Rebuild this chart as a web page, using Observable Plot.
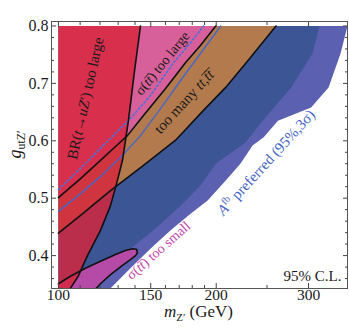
<!DOCTYPE html>
<html><head><meta charset="utf-8">
<script src="https://cdn.jsdelivr.net/npm/d3@7"></script>
<script src="https://cdn.jsdelivr.net/npm/@observablehq/plot@0.6"></script>
<style>body{margin:0;background:#fff}</style>
</head><body><div id="chart"></div>
<script>
// ---- data (m in GeV, g dimensionless) ----
const xMajor = [100, 150, 200, 300];
const xMinor = [110, 120, 130, 140, 160, 170, 180, 190, 250];
const yMajor = [0.4, 0.5, 0.6, 0.7, 0.8];
const yMinor = [0.36,0.38,0.42,0.44,0.46,0.48,0.52,0.54,0.56,0.58,0.62,0.64,0.66,0.68,0.72,0.74,0.76,0.78];

// BR(t->uZ') bound (steep line)
const brM = [143.4,139.7,136.0,132.5,129.6,125.7,120.3,113.6,109.2,105.4,103.5];
const brG = [0.8,0.722,0.635,0.566,0.531,0.487,0.444,0.400,0.365,0.343,0.322];
// sigma(tt) too large boundary (black)
const sigM = [100,110.2,120.3,128.5,135.4,145.3,160.1,174.7,186.6,199.6];
const sigG = [0.501,0.534,0.566,0.590,0.609,0.644,0.691,0.736,0.766,0.8];
// blue solid line
const bluM = [100,110.2,120.3,131.3,143.4,156.6,171,186.6,204];
const bluG = [0.477,0.508,0.538,0.571,0.609,0.656,0.705,0.752,0.8];
// blue dotted line
const dotM = [100,110.2,120.3,128.5,137.2,149.8,165.8,178.7,189.1];
const dotG = [0.515,0.552,0.587,0.613,0.639,0.679,0.736,0.771,0.8];
// too many tttt boundary
const fourM = [100,110.2,125.7,145.3,167.3,189.1,208.5,232.5,260];
const fourG = [0.439,0.470,0.513,0.557,0.601,0.653,0.693,0.745,0.8];
// sigma(tt) too small island
const smallM = [100,105.4,112.6,120.3,128.5,134.2,138.4,140.9,141.5,140.3,137.2,132.5,125.7,120.3,116.1,112.6];
const smallG = [0.351,0.364,0.378,0.390,0.402,0.409,0.412,0.411,0.405,0.400,0.393,0.383,0.367,0.351,0.336,0.322];
// A_fb preferred: 95% (dark) edge and 3 sigma (light) edge
const afb95M = [314.8,305.3,277.9,245.3,227.4,199.6,186.6,171,153.2,137.2,122.9,110.2,105];
const afb95G = [0.8,0.752,0.693,0.635,0.597,0.560,0.522,0.487,0.447,0.412,0.378,0.343,0.32];
const afb3sM = [356,345.3,327.6,303.4,262.3,246.4,234.6,222.4,208.5,192.6,178.7,163.7,149.8,137.2,125.7,120];
const afb3sG = [0.8,0.752,0.693,0.658,0.635,0.606,0.592,0.560,0.531,0.496,0.473,0.444,0.412,0.378,0.343,0.32];

const gTop = 0.8, gLow = 0.322, mLeft = 100;

// ---- build tables ----
const pts = (ms, gs) => ms.map((m, i) => ({m, g: gs[i]}));
const br = pts(brM, brG), sig = pts(sigM, sigG), blu = pts(bluM, bluG), dot = pts(dotM, dotG);
const four = pts(fourM, fourG), small = pts(smallM, smallG);
const afb95 = pts(afb95M, afb95G), afb3s = pts(afb3sM, afb3sG);

const lightPoly = [...afb3s, {m: mLeft, g: gLow}, {m: mLeft, g: gTop}];
const darkPoly = [...afb95, {m: mLeft, g: gLow}, {m: mLeft, g: gTop}];
const orangePoly = [...four, {m: mLeft, g: gTop}];
const pinkPoly = [...sig, {m: mLeft, g: gTop}];
const smallPoly = [...small, {m: mLeft, g: gLow}];
const redPoly = [{m: mLeft, g: gTop}, ...br, {m: mLeft, g: gLow}];

const serif = "'Liberation Serif', 'Times New Roman', serif";
const poly = (data, fill, extra = {}) => Plot.line(data, {x: "m", y: "g", fill, stroke: "none", clip: true, ...extra});
const edge = (data, stroke, extra = {}) => Plot.line(data, {x: "m", y: "g", stroke, strokeWidth: 1.6, clip: true, ...extra});
const blank = () => "";
const tickCol = "#444";

const plot = Plot.plot({
  width: 349, height: 331,
  marginLeft: 51, marginRight: 2, marginTop: 21, marginBottom: 43,
  style: {fontFamily: serif, background: "#fff", color: "#1a1a1a"},
  x: {type: "log", domain: [97, 356], label: null},
  y: {domain: [0.3427, 0.8078], label: null},
  marks: [
    poly(lightPoly, "#5c60b0"),
    poly(darkPoly, "#3b5595"),
    poly(orangePoly, "#b37a4e"),
    poly(pinkPoly, "#d8609a"),
    poly(smallPoly, "#b54aa7"),
    poly(redPoly, "#d7253a", {fillOpacity: 0.82}),
    edge(blu, "#4866c6", {strokeWidth: 1.4}),
    edge(dot, "#4f6fd8", {strokeWidth: 1.6, strokeDasharray: "1.8,2.4"}),
    edge(sig, "#111"),
    edge(four, "#111"),
    edge(br, "#111"),
    edge(small, "#111"),
    // annotations
    Plot.text(["BR(t→uZ′) too large"], {x: 112.6, y: 0.674, text: d => d, rotate: -77.5, fontSize: 15, fill: "#1a1a1a"}),
    Plot.text(["σ(tt\u0305) too large"], {x: 157.9, y: 0.735, text: d => d, rotate: -51, fontSize: 14, fill: "#1a1a1a"}),
    Plot.text(["too many tt,t\u0305t\u0305"], {x: 173.6, y: 0.668, text: d => d, rotate: -47.5, fontSize: 15, fill: "#1a1a1a"}),
    Plot.text(["Afb preferred (95%,3σ)"], {x: 249, y: 0.562, text: d => d, rotate: -47.5, fontSize: 15, fill: "#4563c2"}),
    Plot.text(["σ(tt\u0305) too small"], {x: 155.2, y: 0.409, text: d => d, rotate: -41.5, fontSize: 14, fill: "#c245a6"}),
    Plot.text(["95% C.L."], {x: 346.8, y: 0.3645, text: d => d, textAnchor: "end", fontSize: 15, fill: "#1a1a1a"}),
    // axis titles
    Plot.text(["mZ′ (GeV)"], {x: 185, frameAnchor: "bottom", dy: 28, text: d => d, fontSize: 17, fill: "#1a1a1a"}),
    Plot.text(["gutZ′"], {y: 0.569, frameAnchor: "left", dx: -36, rotate: -90, text: d => d, fontSize: 18, fill: "#1a1a1a"}),
    // axes
    Plot.axisX({anchor: "bottom", ticks: xMajor, tickSize: 0, tickPadding: 0, fontSize: 15.5, tickFormat: d => String(d), label: null}),
    Plot.axisX({anchor: "bottom", ticks: xMajor, tickSize: -5, tickFormat: blank, label: null, stroke: tickCol}),
    Plot.axisX({anchor: "bottom", ticks: xMinor, tickSize: -3, tickFormat: blank, label: null, stroke: tickCol}),
    Plot.axisX({anchor: "top", ticks: xMajor, tickSize: -5, tickFormat: blank, label: null, stroke: tickCol}),
    Plot.axisX({anchor: "top", ticks: xMinor, tickSize: -3, tickFormat: blank, label: null, stroke: tickCol}),
    Plot.axisY({anchor: "left", ticks: yMajor, tickSize: 0, tickPadding: 3, fontSize: 16, tickFormat: d => d.toFixed(1), label: null}),
    Plot.axisY({anchor: "left", ticks: yMajor, tickSize: -5, tickFormat: blank, label: null, stroke: tickCol}),
    Plot.axisY({anchor: "left", ticks: yMinor, tickSize: -3, tickFormat: blank, label: null, stroke: tickCol}),
    Plot.axisY({anchor: "right", ticks: yMajor, tickSize: -5, tickFormat: blank, label: null, stroke: tickCol}),
    Plot.axisY({anchor: "right", ticks: yMinor, tickSize: -3, tickFormat: blank, label: null, stroke: tickCol}),
    Plot.frame({stroke: "#555", strokeWidth: 1})
  ]
});
document.getElementById("chart").appendChild(plot);

// ---- rich text (italics, sub/superscripts) ----
function rich(plain, parts) {
  plot.querySelectorAll("text").forEach(t => {
    if (t.textContent !== plain) return;
    while (t.firstChild) t.removeChild(t.firstChild);
    for (const [s, st] of parts) {
      const ts = document.createElementNS("http://www.w3.org/2000/svg", "tspan");
      ts.textContent = s;
      if (st) for (const k in st) ts.setAttribute(k, st[k]);
      t.appendChild(ts);
    }
  });
}
const it = {"font-style": "italic"};
rich("BR(t→uZ′) too large", [["BR("], ["t", it], ["→"], ["u", it], ["Z", it], ["′) too large"]]);
rich("σ(tt\u0305) too large", [["σ("], ["tt\u0305", it], [") too large"]]);
rich("σ(tt\u0305) too small", [["σ("], ["tt\u0305", it], [") too small"]]);
rich("too many tt,t\u0305t\u0305", [["too many "], ["tt", it], [","], ["t\u0305t\u0305", it]]);
rich("Afb preferred (95%,3σ)", [["A", it], ["fb", {"font-size": "10", dy: "-6"}], [" preferred (95%,3σ)", {dy: "6"}]]);
rich("mZ′ (GeV)", [["m", it], ["Z′", {"font-size": "11", dy: "4"}], [" (GeV)", {dy: "-4"}]]);
rich("gutZ′", [["g", it], ["utZ′", {"font-size": "12", dy: "4"}]]);
</script>
</body></html>
